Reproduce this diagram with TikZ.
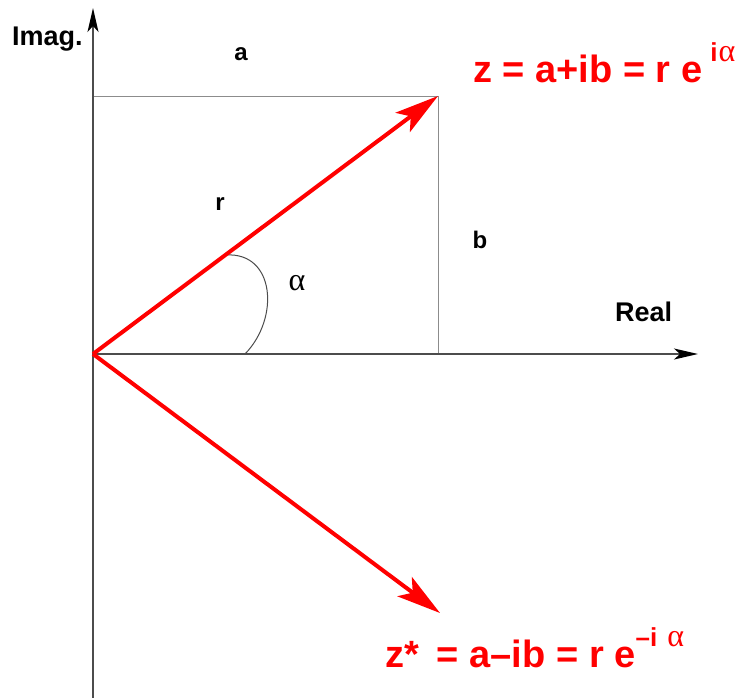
\documentclass[tikz,border=0pt]{standalone}
\usepackage{fontspec}
\setmainfont{Liberation Sans}
\newfontfamily\greekfont{Liberation Serif}
\usetikzlibrary{arrows.meta}
\begin{document}
\begin{tikzpicture}[x=1pt,y=-1pt,
  axis/.style={line width=1.8pt, draw=black!70, -{Stealth[length=24pt,width=11pt,inset=6pt,color=black,fill=black]}},
  boxline/.style={line width=0.9pt, draw=black!45},
  arcline/.style={line width=1pt, draw=black!70},
  vec/.style={line width=4pt, draw=red, -{Stealth[length=44pt,width=24pt,inset=10pt,color=red,fill=red]}},
  lbl/.style={font=\bfseries\fontsize{24}{24}\selectfont, inner sep=0pt},
  axlbl/.style={font=\bfseries\fontsize{27}{27}\selectfont, inner sep=0pt},
  eqn/.style={font=\bfseries\fontsize{38}{38}\selectfont, text=red, inner sep=0pt}]
\useasboundingbox (0,0) rectangle (741,698);
\coordinate (O) at (93,354);
\coordinate (Ybot) at (93,698);
\coordinate (Ytop) at (93,8);
\coordinate (Xend) at (698,354);
\coordinate (Z) at (438,96);
\coordinate (Zc) at (440,613);
\coordinate (A) at (93,96);
\coordinate (B) at (438,354);
\coordinate (ArcS) at (245,354);
\coordinate (ArcE) at (226,255);
\draw[boxline] (A) -- (Z) -- (B);
\draw[axis] (Ybot) -- (Ytop);
\draw[axis] (O) -- (Xend);
\draw[arcline] (ArcS) .. controls (280,318) and (275,252) .. (ArcE);
\draw[vec] (O) -- (Z);
\draw[vec] (O) -- (Zc);
\node[axlbl, anchor=base west] (imag) at (12,46) {Imag.};
\node[axlbl, anchor=base west] (real) at (615,321) {Real};
\node[lbl] (la) at (241,54) {a};
\node[lbl] (lr) at (220,204) {r};
\node[lbl] (lb) at (480,240) {b};
\node[inner sep=0pt, font=\greekfont\fontsize{32}{32}\selectfont] (lalpha) at (297,283) {α};
\node[eqn, anchor=base west] (zeq) at (473,83) {z = a+ib = r e\hspace{8pt}\raisebox{21pt}{\fontsize{26}{26}\selectfont i\hspace{1pt}{\mdseries\greekfont\fontsize{32}{32}\selectfont α}}};
\node[eqn, anchor=base west] (zceq) at (385,667) {z*\hspace{18pt}= a–ib = r e\raisebox{21pt}{\fontsize{26}{26}\selectfont –i\hspace{10pt}{\mdseries\greekfont\fontsize{32}{32}\selectfont α}}};
\end{tikzpicture}
\end{document}
